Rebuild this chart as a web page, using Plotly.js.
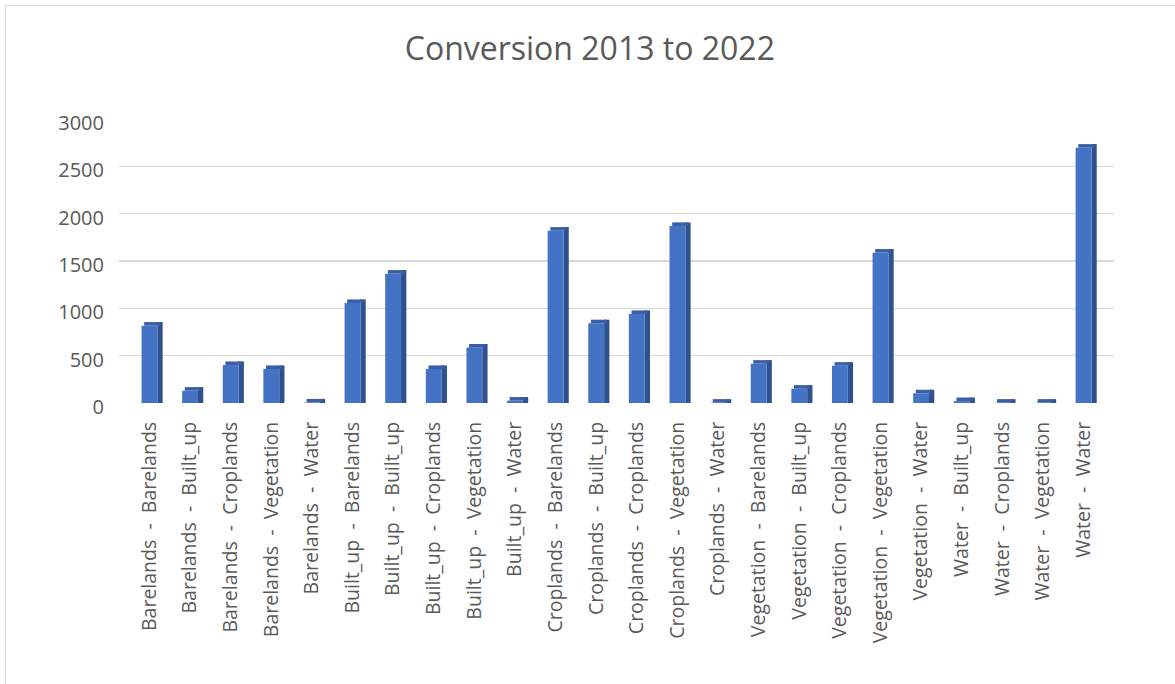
<!DOCTYPE html>
<html>
<head>
<meta charset="utf-8">
<script src="https://cdn.plot.ly/plotly-3.0.1.min.js"></script>
<style>
  html, body { margin: 0; padding: 0; background: #ffffff; overflow: hidden; }
  #wrap { position: relative; width: 1175px; height: 684px; }
  #chart { position: absolute; left: 0; top: 0; width: 1175px; height: 684px; }
  #frame { position: absolute; left: 5px; top: 5px; width: 1200px; height: 700px;
           border-left: 1px solid #d9d9d9; border-top: 1px solid #d9d9d9; pointer-events: none; }
</style>
</head>
<body>
<div id="wrap">
  <div id="chart"></div>
  <div id="frame"></div>
</div>
<script>
const categories = [
  "Barelands - Barelands", "Barelands - Built_up", "Barelands - Croplands", "Barelands - Vegetation",
  "Barelands - Water", "Built_up - Barelands", "Built_up - Built_up", "Built_up - Croplands",
  "Built_up - Vegetation", "Built_up - Water", "Croplands - Barelands", "Croplands - Built_up",
  "Croplands - Croplands", "Croplands - Vegetation", "Croplands - Water", "Vegetation - Barelands",
  "Vegetation - Built_up", "Vegetation - Croplands", "Vegetation - Vegetation", "Vegetation - Water",
  "Water - Built_up", "Water - Croplands", "Water - Vegetation", "Water - Water"
];
const values = [
  817, 130, 401, 359,
  5, 1056, 1366, 359,
  585, 25, 1820, 842,
  940, 1870, 3, 415,
  151, 394, 1588, 102,
  20, 3, 3, 2697
];
const yTickVals = [0, 500, 1000, 1500, 2000, 2500, 3000];
const yTickText = ["0", "500", "1000", "1500", "2000", "2500", "3000"];

const tickLabels = categories.map(c => c.replace(" - ", "\u00a0\u00a0-\u00a0\u00a0"));
const capHeight = 38;

const front = {
  type: "bar", x: categories, y: values,
  width: 0.39, offset: -0.195,
  marker: { color: "#4472C4" }, hoverinfo: "x+y", showlegend: false
};
const side = {
  type: "bar", x: categories, y: values.map(v => v + capHeight),
  width: 0.13, offset: 0.195,
  marker: { color: "#2F528F" }, hoverinfo: "skip", showlegend: false
};
const cap = {
  type: "bar", x: categories, y: values.map(() => capHeight), base: values,
  width: 0.39, offset: -0.13,
  marker: { color: "#3A5FA8" }, hoverinfo: "skip", showlegend: false
};

const layout = {
  width: 1175, height: 684,
  paper_bgcolor: "#ffffff", plot_bgcolor: "#ffffff",
  margin: { l: 119, r: 61, t: 119, b: 281, pad: 0 },
  barmode: "overlay",
  font: { family: "Open Sans, Liberation Sans, sans-serif", color: "#595959" },
  title: {
    text: "Conversion 2013 to 2022",
    font: { family: "Open Sans, Liberation Sans, sans-serif", size: 32, color: "#595959" },
    x: 0.502, xanchor: "center", y: 1 - 49 / 684, yanchor: "middle", yref: "container"
  },
  xaxis: {
    type: "category",
    range: [-0.75, 23.75],
    tickmode: "array", tickvals: categories, ticktext: tickLabels,
    tickangle: -90,
    tickfont: { size: 19.5, color: "#595959" },
    showgrid: false, zeroline: false, showline: false, ticks: "",
    ticklabelstandoff: 14
  },
  yaxis: {
    range: [0, 3000],
    tickmode: "array", tickvals: yTickVals, ticktext: yTickText,
    tickfont: { size: 20, color: "#595959" },
    showgrid: true, gridcolor: "#d9d9d9", gridwidth: 1.5,
    zeroline: false, showline: false, ticks: "",
    ticklabelstandoff: 14, ticklabelshift: 4
  }
};

Plotly.newPlot("chart", [side, front, cap], layout, { displayModeBar: false, staticPlot: true });
</script>
</body>
</html>
